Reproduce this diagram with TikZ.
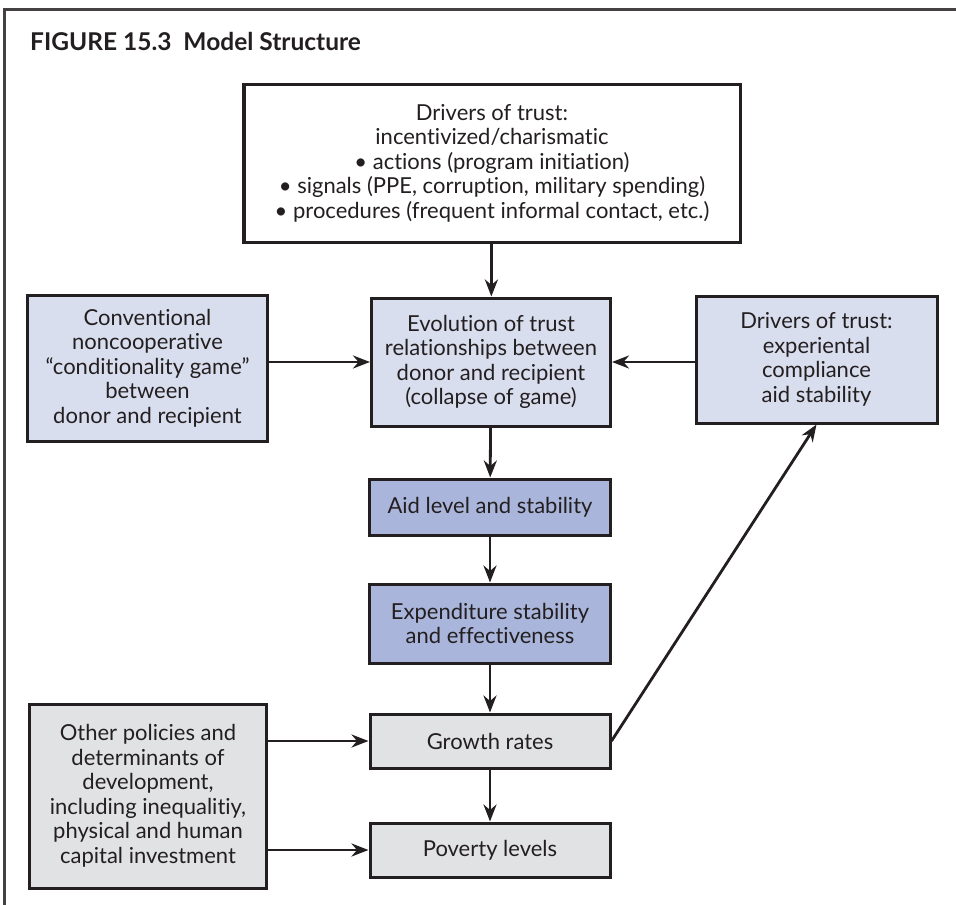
\documentclass[tikz,border=0pt]{standalone}
\usepackage{fontspec}
\setmainfont{Lato}[Ligatures=NoCommon]
\usetikzlibrary{arrows.meta}
\definecolor{ink}{HTML}{231F20}
\definecolor{paleblue}{HTML}{D9DEEF}
\definecolor{midblue}{HTML}{A9B5DB}
\definecolor{palegray}{HTML}{E1E2E4}
\newcommand{\modelfont}{\fontsize{22bp}{24.5bp}\selectfont}

\begin{document}
\begin{tikzpicture}[x=1bp,y=-1bp,>={Stealth[length=17bp,width=13bp]},
    box/.style={draw=ink,line width=3bp,align=center,text=ink,inner sep=0pt,font=\modelfont},
    flow/.style={->,draw=ink,line width=2.8bp}]
  \useasboundingbox (0,0) rectangle (956,905);
  % --- open frame and title ---
  \draw[ink!85,line width=3bp] (4,905) -- (4,9) -- (956,9);
  \node[anchor=base west,inner sep=0pt,text=ink,font=\bfseries\fontsize{24.5bp}{28bp}\selectfont]
       (title) at (30,50) {FIGURE 15.3\ \ Model Structure};
  % --- top row ---
  \node[box,fill=white,minimum width=496bp,minimum height=158bp] (drivers) at (492,163)
       {Drivers of trust:\\ incentivized/charismatic\\ • actions (program initiation)\\
        • signals (PPE, corruption, military spending)\\ • procedures (frequent informal contact, etc.)};
  % --- trust row ---
  \node[box,fill=paleblue,minimum width=239bp,minimum height=146bp] (conv) at (147.5,368)
       {Conventional\\ noncooperative\\ “conditionality game”\\ between\\ donor and recipient};
  \node[box,fill=paleblue,minimum width=239bp,minimum height=128bp] (evol) at (491,362)
       {Evolution of trust\\ relationships between\\ donor and recipient\\ (collapse of game)};
  \node[box,fill=paleblue,minimum width=241bp,minimum height=127bp] (exper) at (816.5,359.5)
       {Drivers of trust:\\ experiental\\ compliance\\ aid stability};
  % --- aid chain ---
  \node[box,fill=midblue,minimum width=241bp,minimum height=56bp] (aid) at (490,507)
       {Aid level and stability};
  \node[box,fill=midblue,minimum width=241bp,minimum height=79bp] (spend) at (490,623.5)
       {Expenditure stability\\ and effectiveness};
  % --- outcomes ---
  \node[box,fill=palegray,minimum width=240bp,minimum height=54bp] (growth) at (490,741)
       {Growth rates};
  \node[box,fill=palegray,minimum width=240bp,minimum height=54bp] (poverty) at (490,850)
       {Poverty levels};
  \node[box,fill=palegray,minimum width=236bp,minimum height=184bp] (other) at (148,796)
       {Other policies and\\ determinants of\\ development,\\ including inequalitiy,\\
        physical and human\\ capital investment};
  % --- arrows ---
  \draw[flow] (drivers) -- (evol);
  \draw[flow] (conv.east |- evol) -- (evol.west);
  \draw[flow] (exper.west |- evol) -- (evol.east);
  \draw[flow] (evol) -- (aid);
  \draw[flow] (aid) -- (spend);
  \draw[flow] (spend) -- (growth);
  \draw[flow] (growth) -- (poverty);
  \draw[flow] (other.east |- growth) -- (growth.west);
  \draw[flow] (other.east |- poverty) -- (poverty.west);
  \draw[flow] (growth.east) -- (exper.south);
\end{tikzpicture}
\end{document}
